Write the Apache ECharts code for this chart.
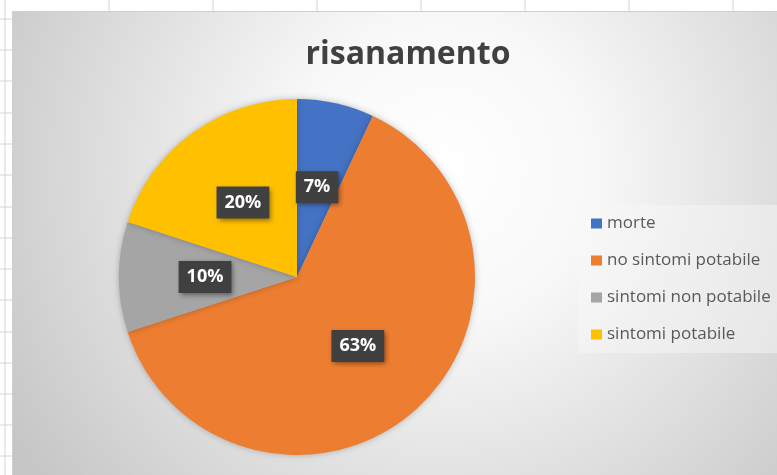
<!DOCTYPE html>
<html>
<head>
<meta charset="utf-8">
<script src="https://cdn.jsdelivr.net/npm/echarts@6/dist/echarts.min.js"></script>
<style>
  html, body { margin: 0; padding: 0; background: #ffffff; }
  #chart { width: 777px; height: 475px; }
</style>
</head>
<body>
<div id="chart"></div>
<script>
// dati del grafico
var categorie = ['morte', 'no sintomi potabile', 'sintomi non potabile', 'sintomi potabile'];
var valori = [7, 63, 10, 20];
var colori = ['#4472C4', '#ED7D31', '#A5A5A5', '#FFC000'];
var titolo = 'risanamento';

// righe e colonne del foglio dietro al grafico
var colonneFoglio = [109, 213, 317, 421, 525, 629, 733];
var righeFoglio = [19, 50, 81, 113, 144, 175, 207, 238, 269, 300, 332, 363, 394, 425, 456];

var chart = echarts.init(document.getElementById('chart'));

var griglia = [];
colonneFoglio.forEach(function (x) {
  griglia.push({ type: 'line', z: -10, shape: { x1: x, y1: 0, x2: x, y2: 11 },
    style: { stroke: '#d4d4d4', lineWidth: 1 } });
});
righeFoglio.forEach(function (y) {
  griglia.push({ type: 'line', z: -10, shape: { x1: 0, y1: y, x2: 12, y2: y },
    style: { stroke: '#d4d4d4', lineWidth: 1 } });
});
griglia.push({ type: 'line', z: -10, shape: { x1: 5, y1: 0, x2: 5, y2: 475 },
  style: { stroke: '#d4d4d4', lineWidth: 1 } });

// area del grafico con sfondo radiale
griglia.push({
  type: 'rect', z: -5,
  shape: { x: 12.5, y: 11.5, width: 780, height: 480 },
  style: {
    fill: {
      type: 'radial', x: 0.55, y: 0.33, r: 1.05,
      colorStops: [
        { offset: 0, color: '#ffffff' },
        { offset: 0.3, color: '#f8f8f8' },
        { offset: 1, color: '#c6c6c6' }
      ]
    },
    stroke: '#cfcfcf', lineWidth: 1
  }
});

var dati = categorie.map(function (c, i) {
  return { name: c, value: valori[i], itemStyle: { color: colori[i] } };
});

chart.setOption({
  animation: false,
  graphic: griglia,
  title: {
    text: titolo,
    left: 403,
    textAlign: 'center',
    top: 34,
    textStyle: { fontFamily: 'Open Sans', fontWeight: 'bold', fontSize: 32, color: '#404040' }
  },
  legend: {
    orient: 'vertical',
    left: 578,
    top: 205,
    padding: [10, 10, 10, 13],
    backgroundColor: 'rgba(248,248,248,0.45)',
    icon: 'rect',
    itemWidth: 11,
    itemHeight: 10,
    itemGap: 20,
    textStyle: { fontFamily: 'Open Sans', fontSize: 17, lineHeight: 17, color: '#595959' },
    data: categorie
  },
  series: [{
    type: 'pie',
    center: [297, 277],
    radius: 178,
    startAngle: 90,
    clockwise: true,
    itemStyle: { shadowBlur: 6, shadowColor: 'rgba(0,0,0,0.25)' },
    label: {
      position: 'inside',
      formatter: '{c}%',
      fontFamily: 'Open Sans',
      fontWeight: 'bold',
      fontSize: 18,
      color: '#ffffff',
      backgroundColor: '#404040',
      padding: [7, 8, 7, 8],
      shadowBlur: 5,
      shadowColor: 'rgba(0,0,0,0.45)',
      shadowOffsetX: 2,
      shadowOffsetY: 2
    },
    labelLine: { show: false },
    data: dati
  }]
});
</script>
</body>
</html>
